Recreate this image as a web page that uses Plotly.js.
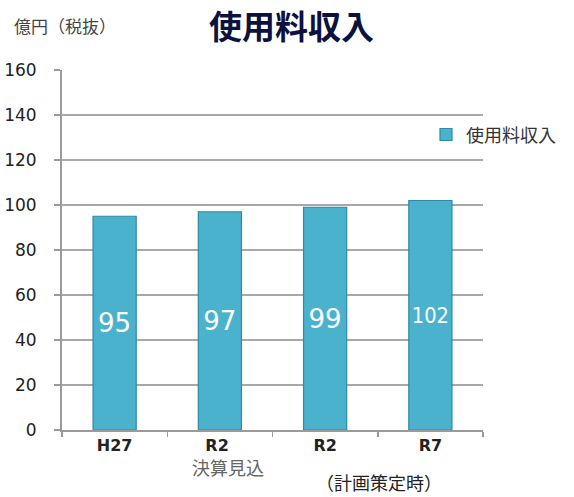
<!DOCTYPE html>
<html><head><meta charset="utf-8">
<script src="https://cdn.plot.ly/plotly-3.0.1.min.js"></script>
<style>html,body{margin:0;padding:0;background:#fff}#chart{width:574px;height:497px}</style>
</head><body><div id="chart"></div>
<script>
const categories = ['H27', 'R2 ', 'R2', 'R7'];
const values = [95, 97, 99, 102];
const valueLabels = ['95', '97', '99', '102'];
const seriesName = '使用料収入';
const yTicks = [0, 20, 40, 60, 80, 100, 120, 140, 160];

const jp = '"Noto Sans CJK JP", "DejaVu Sans", sans-serif';
const labelFonts = valueLabels.map(t => t.length > 2 ? '"DejaVu Sans Condensed", sans-serif' : '"DejaVu Sans", sans-serif');
const trace = {
  type: 'bar', x: categories, y: values, name: seriesName,
  text: valueLabels, textposition: 'inside', insidetextanchor: 'middle',
  textangle: 0,
  textfont: {family: labelFonts, size: 26, color: '#ffffff'},
  marker: {color: '#4bb2cd', line: {color: '#2f8aa3', width: 1.2}},
  width: 0.41, showlegend: true, hoverinfo: 'none'
};
const layout = {
  width: 574, height: 497,
  margin: {l: 62, r: 91, t: 70, b: 67, autoexpand: false},
  paper_bgcolor: '#fff', plot_bgcolor: '#fff',
  xaxis: {type: 'category', showline: true, linecolor: '#9a9a9a', linewidth: 2,
    ticks: 'outside', ticklen: 5, tickcolor: '#9a9a9a', tickwidth: 1.5, tickson: 'boundaries',
    tickfont: {family: '"DejaVu Sans", sans-serif', size: 16, color: '#222', weight: 'bold'},
    showgrid: false, fixedrange: true},
  yaxis: {range: [0, 160], tickvals: yTicks, showline: true, linecolor: '#9a9a9a', linewidth: 2,
    ticks: 'outside', ticklen: 6, tickcolor: '#9a9a9a', tickwidth: 1.5,
    ticklabelstandoff: 14,
    tickfont: {family: '"DejaVu Sans", sans-serif', size: 17, color: '#222'},
    showgrid: true, gridcolor: '#a8a8a8', gridwidth: 2, zeroline: false, fixedrange: true},
  legend: {x: (426 - 62) / 421, y: 0.82, xanchor: 'left', yanchor: 'middle',
    font: {family: jp, size: 18, color: '#333'}, bgcolor: 'rgba(0,0,0,0)',
    itemwidth: 30, tracegroupgap: 0},
  showlegend: true,
  annotations: [
    {text: '使用料収入', xref: 'paper', yref: 'paper', x: (291 - 62) / 421, y: (430 - 25) / 360,
      showarrow: false, xanchor: 'center', yanchor: 'middle',
      font: {family: jp, size: 33, color: '#0b1240', weight: 'bold'}},
    {text: '億円（税抜）', xref: 'paper', yref: 'paper', x: (12 - 62) / 421, y: (430 - 25) / 360,
      showarrow: false, xanchor: 'left', yanchor: 'middle',
      font: {family: jp, size: 17, color: '#444'}},
    {text: '決算見込', xref: 'paper', yref: 'paper', x: (228 - 62) / 421, y: (430 - 467) / 360,
      showarrow: false, xanchor: 'center', yanchor: 'middle',
      font: {family: jp, size: 18, color: '#666'}},
    {text: '（計画策定時）', xref: 'paper', yref: 'paper', x: (379 - 62) / 421, y: (430 - 497) / 360,
      showarrow: false, xanchor: 'center', yanchor: 'bottom',
      font: {family: jp, size: 18, color: '#222'}}
  ]
};
Plotly.newPlot('chart', [trace], layout, {displayModeBar: false, staticPlot: true});
</script></body></html>
